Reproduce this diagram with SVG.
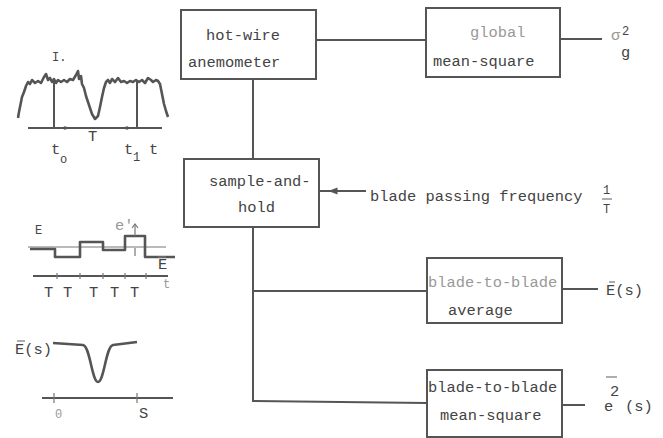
<svg xmlns="http://www.w3.org/2000/svg" width="663" height="438" viewBox="0 0 663 438">
<style>
text{font-family:"Liberation Mono","DejaVu Sans Mono",monospace;font-size:15.4px;fill:#444}
.box{fill:#fff;stroke:#555;stroke-width:2}
.ln{fill:none;stroke:#555;stroke-width:2}
.sk{fill:none;stroke:#555;stroke-width:2.6;stroke-linejoin:round}
.thin{fill:none;stroke:#777;stroke-width:1.2}
.faint{fill:#999}
.sm{font-size:12px}
</style>
<defs>
<marker id="ah" viewBox="0 0 10 10" refX="5" refY="5" markerWidth="4.5" markerHeight="4.5" orient="auto">
<path d="M0,1 L10,5 L0,9 Z" fill="#555"/>
</marker>
</defs>
<rect width="663" height="438" fill="#fff"/>

<g id="connectors">
<path class="ln" d="M316,40 L426,40"/>
<path class="ln" d="M560,39 L602,39"/>
<path class="ln" d="M253,79 L253,159"/>
<path class="ln" d="M366,191 L333,191 L319,191" stroke-width="1.6" marker-mid="url(#ah)"/>
<path class="ln" d="M253,227 L253,401 L427,403"/>
<path class="ln" d="M253,291 L427,291"/>
<path class="ln" d="M562,289 L598,289"/>
<path class="ln" d="M562,405 L585,405"/>
</g>

<g id="hotwire">
<rect class="box" x="181" y="10" width="135" height="69"/>
<text x="206" y="40">hot-wire</text>
<text x="188" y="67">anemometer</text>
</g>

<g id="global">
<rect class="box" x="426" y="8" width="134" height="69"/>
<text class="faint" x="470" y="37">global</text>
<text x="433" y="66">mean-square</text>
</g>

<g id="sigma-out">
<text class="faint" x="611" y="40" font-size="13px">σ</text>
<text class="sm" x="622" y="35">2</text>
<text x="621" y="57">g</text>
</g>

<g id="samplehold">
<rect class="box" x="184" y="159" width="135" height="68"/>
<text x="209" y="186">sample-and-</text>
<text x="238" y="212">hold</text>
</g>

<g id="bpf">
<text x="370" y="201">blade passing frequency</text>
<text class="sm" x="603" y="194">1</text>
<path class="thin" d="M602,199 L612,199"/>
<text class="sm" x="603" y="213">T</text>
</g>

<g id="average">
<rect class="box" x="427" y="258" width="135" height="65"/>
<text class="faint" x="428" y="287">blade-to-blade</text>
<text x="448" y="315">average</text>
</g>

<g id="E-out">
<text x="606" y="295">E(s)</text>
<path class="thin" d="M609,282 L615,282"/>
</g>

<g id="meansquare">
<rect class="box" x="427" y="370" width="135" height="67"/>
<text x="428" y="392">blade-to-blade</text>
<text x="440" y="420">mean-square</text>
</g>

<g id="e2-out">
<text x="604" y="411">e</text>
<text x="610" y="396">2</text>
<path class="thin" d="M606,377 L617,377"/>
<text x="625" y="411">(s)</text>
</g>

<!-- sketch 1: signal -->
<g id="sketch-signal">
<text class="sm" x="52" y="61">I.</text>
<path class="sk" stroke-width="3" d="M18,118 L19,112 L21,102 L22,97 L24,92 L26,86 L28,82 L30,84 L32,80 L35,83 L38,81 L41,83 L44,77 L46,74 L48,80 L50,78 L52,82 L54,79 L56,83 L58,80 L61,82 L64,80 L67,82 L70,79 L73,80 L76,75 L78,71 L79,79 L81,76 L82,84 L84,88 L86,96 L89,105 L92,114 L95,119 L98,116 L100,107 L102,97 L104,88 L106,82 L108,80 L110,83 L112,79 L115,82 L118,78 L121,82 L124,81 L127,83 L130,81 L133,82 L136,80 L139,82 L142,80 L145,83 L148,78 L151,80 L153,82 L156,80 L158,81 L160,84 L162,94 L164,104 L166,111 L168,117"/>
<path class="ln" d="M54,80 L54,128 M137,81 L137,128"/>
<path class="ln" d="M28,128 L162,128"/>
<circle cx="65" cy="128" r="1.8" fill="#555"/>
<circle cx="127" cy="128" r="1.8" fill="#555"/>
<text x="88" y="141" font-size="13px">T</text>
<text x="51" y="154">t</text>
<text class="sm" x="60" y="163">o</text>
<text x="124" y="154">t</text>
<text class="sm" x="133" y="161">1</text>
<text x="149" y="154">t</text>
</g>

<!-- sketch 2: sampled -->
<g id="sketch-steps">
<text class="sm" x="35" y="234">E</text>
<text class="faint" x="115" y="230" font-size="8px">e'</text>
<path class="thin" d="M28,247 L166,247"/>
<path class="sk" stroke-width="2.2" d="M30,249 L55,249 L55,257 L80,257 L80,242 L103,242 L103,250 L125,250 L125,236 L145,236 L145,257 L175,257"/>
<path class="thin" d="M135,224 L135,236 M135,248 L135,256"/>
<path class="thin" d="M132,228 L135,224 L138,228"/>
<text x="158" y="269">E</text>
<path class="thin" d="M158,257 L166,257"/>
<path class="ln" stroke-width="2.6" d="M33,276 L168,276"/>
<path class="thin" d="M57,273 L57,279 M80,273 L80,279 M103,273 L103,279 M125,273 L125,279 M146,273 L146,279"/>
<text class="faint sm" x="163" y="288">t</text>
<text x="44" y="297" font-size="13px">T</text>
<text x="63" y="297" font-size="13px">T</text>
<text x="89" y="297" font-size="13px">T</text>
<text x="110" y="297" font-size="13px">T</text>
<text x="130" y="297" font-size="13px">T</text>
</g>

<!-- sketch 3: ensemble average -->
<g id="sketch-avg">
<text x="15" y="354">E(s)</text>
<path class="thin" d="M17,341 L25,341"/>
<path class="sk" stroke-width="3" d="M53,343 L83,345 C90,346 92,382 98,382 C104,382 106,346 113,345 L137,342"/>
<path class="ln" d="M42,398 L173,398"/>
<path class="thin" d="M54,393 L54,403 M137,393 L137,403"/>
<text class="faint sm" x="55" y="418">0</text>
<text x="139" y="418" font-size="13px">S</text>
</g>
</svg>
